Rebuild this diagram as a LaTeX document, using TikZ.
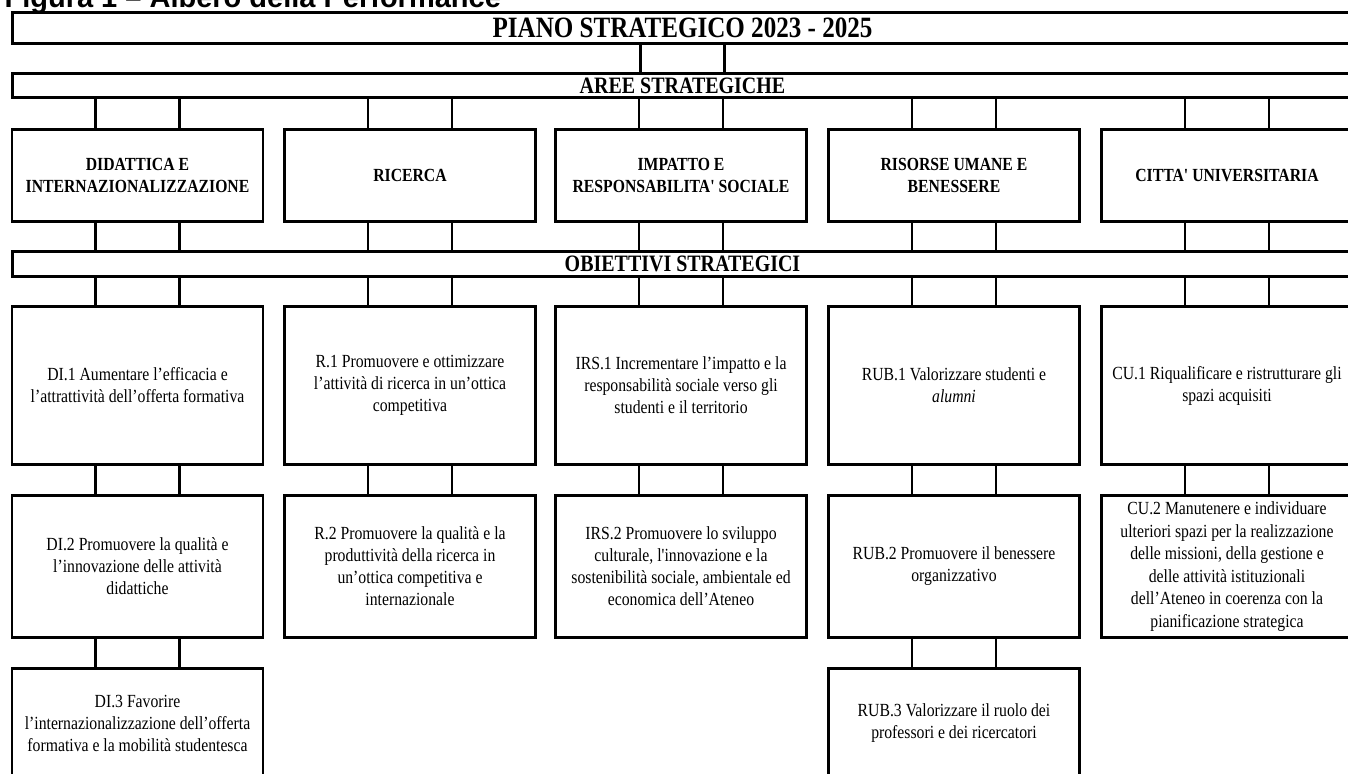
\documentclass[tikz,border=0pt]{standalone}
\usepackage{fontspec}
\setmainfont[FakeStretch=0.85,Ligatures=TeXOff]{Liberation Serif}
\newfontfamily\titlefont{Liberation Sans}

\tikzset{
  box/.style={draw, line width=2.8pt, minimum width=251pt, inner sep=1pt, align=center,
              font=\fontsize{18.5}{22}\selectfont},
  bar/.style={draw, line width=2.8pt, minimum width=1340pt, inner sep=0pt,
              font=\bfseries\fontsize{23.5}{26}\selectfont},
  area/.style={box, minimum height=92pt, font=\bfseries\fontsize{18.5}{22}\selectfont},
  link/.style={line width=2.8pt},
}

% two vertical links under column #3, from #1 down to #2
\newcommand{\pairlink}[3]{%
  \foreach \dx in {-42,42}
    \draw[link] ([xshift=\dx pt]#3.center |- #1.south) -- ([xshift=\dx pt]#3.center |- #2.north);
}

\begin{document}
\begin{tikzpicture}[x=1pt,y=-1pt]
        \useasboundingbox (0,0) rectangle (1348,773);

        \node[anchor=base west, font=\titlefont\bfseries\fontsize{29}{32}\selectfont] (title) at (1,8)
            {Figura 1 – Albero della Performance};

        % bars
        \node[bar, minimum height=31pt, font=\bfseries\fontsize{29.5}{32}\selectfont] (piano) at (682.5,28) {PIANO STRATEGICO 2023 - 2025};
        \node[bar, minimum height=24pt] (aree) at (682.5,85.5) {AREE STRATEGICHE};
        \node[bar, minimum height=25pt] (obiettivi) at (682.5,264) {OBIETTIVI STRATEGICI};

        % aree strategiche
        \node[area] (did) at (137.5,175.5) {DIDATTICA E\\INTERNAZIONALIZZAZIONE};
        \node[area] (ric) at (410,175.5) {RICERCA};
        \node[area] (imp) at (681,175.5) {IMPATTO E\\RESPONSABILITA' SOCIALE};
        \node[area] (rub) at (954,175.5) {RISORSE UMANE E\\BENESSERE};
        \node[area] (cu) at (1227,175.5) {CITTA' UNIVERSITARIA};

        % obiettivi, prima riga
        \node[box, minimum height=158pt] (di1) at (137.5,385.5) {DI.1 Aumentare l’efficacia e\\l’attrattività dell’offerta formativa};
        \node[box, minimum height=158pt] (r1) at (410,385.5) {R.1 Promuovere e ottimizzare\\l’attività di ricerca in un’ottica\\competitiva};
        \node[box, minimum height=158pt] (irs1) at (681,385.5) {IRS.1 Incrementare l’impatto e la\\responsabilità sociale verso gli\\studenti e il territorio};
        \node[box, minimum height=158pt] (rub1) at (954,385.5) {RUB.1 Valorizzare studenti e\\\textit{alumni}};
        \node[box, minimum height=158pt] (cu1) at (1227,385.5) {CU.1 Riqualificare e ristrutturare gli\\spazi acquisiti};

        % seconda riga
        \node[box, minimum height=142pt] (di2) at (137.5,566.5) {DI.2 Promuovere la qualità e\\l’innovazione delle attività\\didattiche};
        \node[box, minimum height=142pt] (r2) at (410,566.5) {R.2 Promuovere la qualità e la\\produttività della ricerca in\\un’ottica competitiva e\\internazionale};
        \node[box, minimum height=142pt] (irs2) at (681,566.5) {IRS.2 Promuovere lo sviluppo\\culturale, l'innovazione e la\\sostenibilità sociale, ambientale ed\\economica dell’Ateneo};
        \node[box, minimum height=142pt] (rub2) at (954,566.5) {RUB.2 Promuovere il benessere\\organizzativo};
        \node[box, minimum height=142pt, font=\fontsize{18.5}{22.6}\selectfont] (cu2) at (1227,566.5) {CU.2 Manutenere e individuare\\ulteriori spazi per la realizzazione\\delle missioni, della gestione e\\delle attività istituzionali\\dell’Ateneo in coerenza con la\\pianificazione strategica};

        % terza riga
        \node[box, minimum height=109pt] (di3) at (137.5,723) {DI.3 Favorire\\l’internazionalizzazione dell’offerta\\formativa e la mobilità studentesca};
        \node[box, minimum height=109pt] (rub3) at (954,723) {RUB.3 Valorizzare il ruolo dei\\professori e dei ricercatori};

        % collegamenti
        \pairlink{piano}{aree}{aree}
        \pairlink{aree}{did}{did}
        \pairlink{aree}{ric}{ric}
        \pairlink{aree}{imp}{imp}
        \pairlink{aree}{rub}{rub}
        \pairlink{aree}{cu}{cu}
        \pairlink{did}{obiettivi}{did}
        \pairlink{ric}{obiettivi}{ric}
        \pairlink{imp}{obiettivi}{imp}
        \pairlink{rub}{obiettivi}{rub}
        \pairlink{cu}{obiettivi}{cu}
        \pairlink{obiettivi}{di1}{di1}
        \pairlink{obiettivi}{r1}{r1}
        \pairlink{obiettivi}{irs1}{irs1}
        \pairlink{obiettivi}{rub1}{rub1}
        \pairlink{obiettivi}{cu1}{cu1}
        \pairlink{di1}{di2}{di2}
        \pairlink{r1}{r2}{r2}
        \pairlink{irs1}{irs2}{irs2}
        \pairlink{rub1}{rub2}{rub2}
        \pairlink{cu1}{cu2}{cu2}
        \pairlink{di2}{di3}{di3}
        \pairlink{rub2}{rub3}{rub3}

    \end{tikzpicture}
\end{document}
